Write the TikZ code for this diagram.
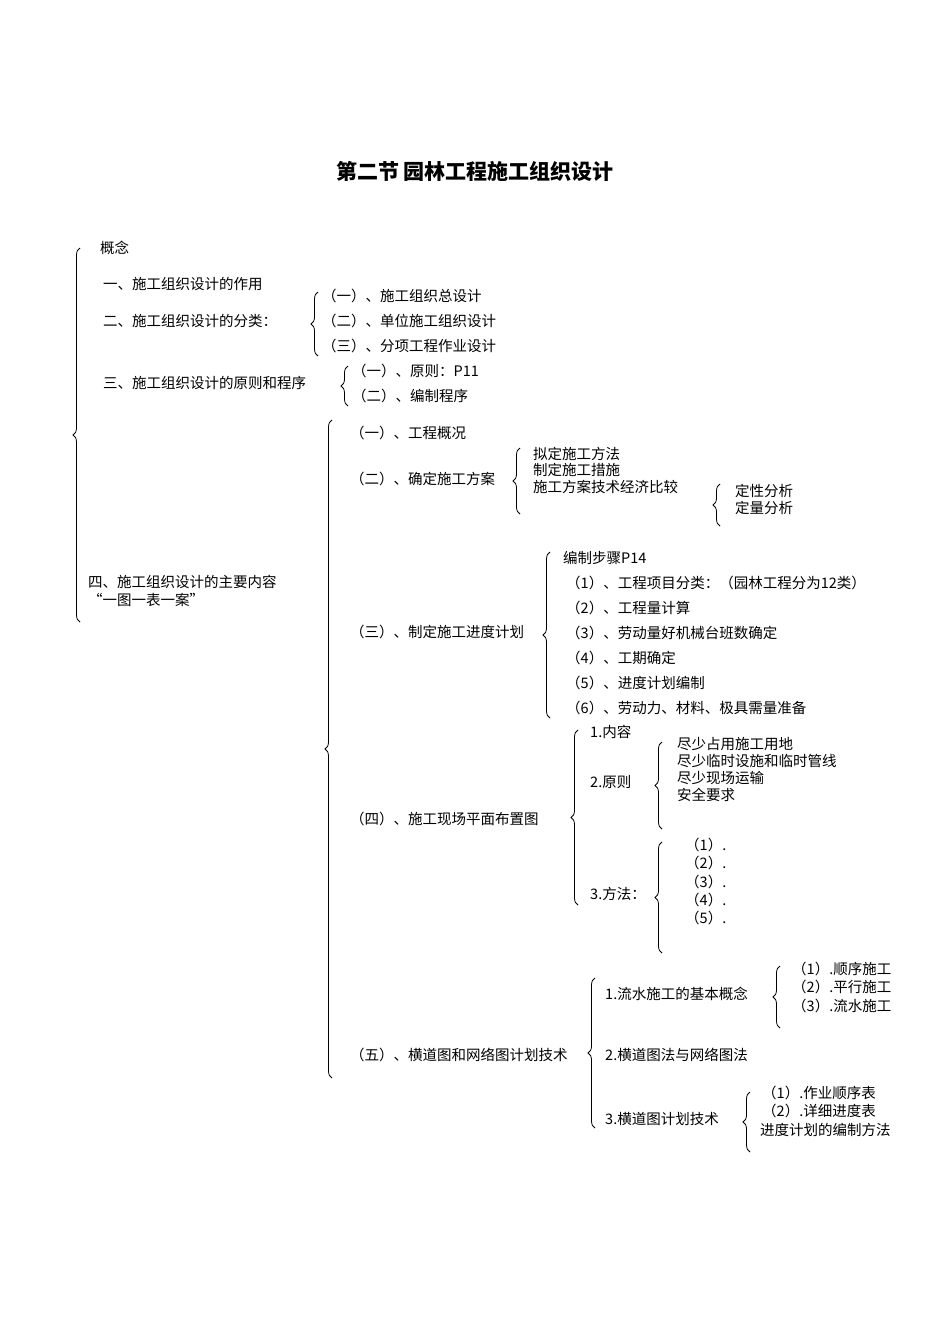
\documentclass[tikz,border=0pt]{standalone}
\usepackage{fontspec}
\setmainfont{Noto Sans CJK SC}
\usetikzlibrary{decorations.pathreplacing}
\tikzset{
  t/.style={anchor=west,inner sep=0pt,font=\fontsize{14.5}{16}\selectfont},
  br/.style={decorate,decoration={brace,amplitude=7pt},line width=0.8pt},
  x=1pt,y=-1pt
}
\newcommand{\brc}[4]{\draw[br] (#1,#3) -- (#1,#2); \coordinate (#4) at (#1,{(#2+#3)/2});}
\begin{document}
\begin{tikzpicture}
\useasboundingbox (0,0) rectangle (950,1344);
\node[font=\fontsize{21}{24}\selectfont\bfseries] (title) at (475,171) {第二节 园林工程施工组织设计};
% braces
\brc{80}{248}{622}{b1}
\brc{318}{292}{356}{b2}
\brc{348}{366}{406}{b3}
\brc{332}{420}{1078}{b4}
\brc{520}{448}{514}{b5}
\brc{720}{484}{526}{b6}
\brc{550}{552}{718}{b7}
\brc{578}{730}{905}{b8}
\brc{662}{742}{829}{b9}
\brc{662}{842}{953}{b10}
\brc{595}{978}{1128}{b11}
\brc{780}{966}{1028}{b12}
\brc{750}{1092}{1152}{b13}
% texts
\node[t] (a0) at (100,248) {概念};
\node[t] (a1) at (103,284) {一、施工组织设计的作用};
\node[t] (a2) at (103,321) {二、施工组织设计的分类：};
\node[t] (a21) at (322,296) {（一）、施工组织总设计};
\node[t] (a22) at (322,321) {（二）、单位施工组织设计};
\node[t] (a23) at (322,346) {（三）、分项工程作业设计};
\node[t] (a3) at (103,383) {三、施工组织设计的原则和程序};
\node[t] (a31) at (352,371) {（一）、原则：P11};
\node[t] (a32) at (352,396) {（二）、编制程序};
\node[t] (a4) at (88,582) {四、施工组织设计的主要内容};
\node[t] (a4b) at (88,600) {“一图一表一案”};
\node[t] (c1) at (350,433) {（一）、工程概况};
\node[t] (c2) at (350,479) {（二）、确定施工方案};
\node[t] (c21) at (533,454) {拟定施工方法};
\node[t] (c22) at (533,470) {制定施工措施};
\node[t] (c23) at (533,487) {施工方案技术经济比较};
\node[t] (c231) at (735,491) {定性分析};
\node[t] (c232) at (735,508) {定量分析};
\node[t] (c3) at (350,632) {（三）、制定施工进度计划};
\node[t] (c30) at (563,558) {编制步骤P14};
\node[t] (c31) at (566,583) {（1）、工程项目分类：（园林工程分为12类）};
\node[t] (c32) at (566,608) {（2）、工程量计算};
\node[t] (c33) at (566,633) {（3）、劳动量好机械台班数确定};
\node[t] (c34) at (566,658) {（4）、工期确定};
\node[t] (c35) at (566,683) {（5）、进度计划编制};
\node[t] (c36) at (566,708) {（6）、劳动力、材料、极具需量准备};
\node[t] (c4) at (350,819) {（四）、施工现场平面布置图};
\node[t] (c41) at (590,732) {1.内容};
\node[t] (c42) at (590,782) {2.原则};
\node[t] (c421) at (677,744) {尽少占用施工用地};
\node[t] (c422) at (677,761) {尽少临时设施和临时管线};
\node[t] (c423) at (677,778) {尽少现场运输};
\node[t] (c424) at (677,795) {安全要求};
\node[t] (c43) at (590,894) {3.方法：};
\node[t] (m1) at (685,845) {（1）.};
\node[t] (m2) at (685,863) {（2）.};
\node[t] (m3) at (685,882) {（3）.};
\node[t] (m4) at (685,900) {（4）.};
\node[t] (m5) at (685,918) {（5）.};
\node[t] (c5) at (350,1055) {（五）、横道图和网络图计划技术};
\node[t] (c51) at (605,994) {1.流水施工的基本概念};
\node[t] (s1) at (792,969) {（1）.顺序施工};
\node[t] (s2) at (792,987) {（2）.平行施工};
\node[t] (s3) at (792,1006) {（3）.流水施工};
\node[t] (c52) at (605,1055) {2.横道图法与网络图法};
\node[t] (c53) at (605,1119) {3.横道图计划技术};
\node[t] (h1) at (762,1093) {（1）.作业顺序表};
\node[t] (h2) at (762,1111) {（2）.详细进度表};
\node[t] (h3) at (760,1130) {进度计划的编制方法};
\end{tikzpicture}
\end{document}
